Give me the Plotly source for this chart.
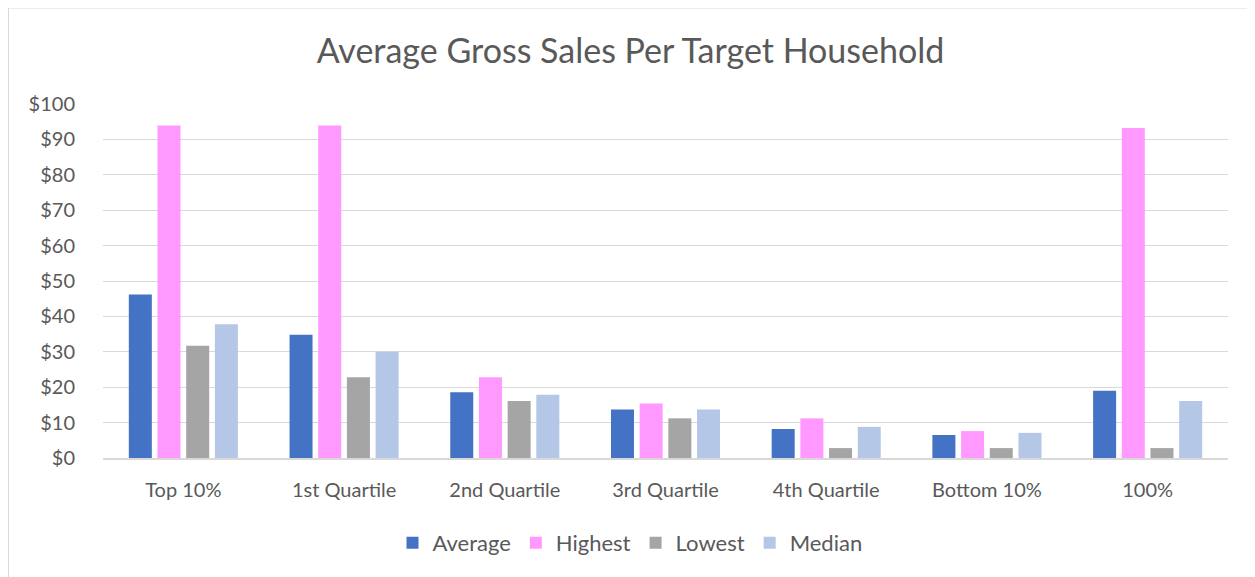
import plotly.graph_objects as go

categories = ["Top 10%", "1st Quartile", "2nd Quartile", "3rd Quartile", "4th Quartile", "Bottom 10%", "100%"]
average = [46.2, 34.8, 18.6, 13.7, 8.2, 6.5, 19.0]
highest = [93.9, 93.9, 22.8, 15.4, 11.2, 7.6, 93.2]
lowest = [31.7, 22.8, 16.1, 11.2, 2.8, 2.8, 2.8]
median = [37.8, 30.0, 17.9, 13.7, 8.8, 7.1, 16.1]
tick_vals = [0, 10, 20, 30, 40, 50, 60, 70, 80, 90, 100]
tick_text = ["$" + str(v) for v in tick_vals]

series = [
    ("Average", average, "#4472C4"),
    ("Highest", highest, "#FF99FF"),
    ("Lowest", lowest, "#A5A5A5"),
    ("Median", median, "#B4C7E7"),
]

fig = go.Figure()
for name, vals, color in series:
    fig.add_trace(go.Bar(x=categories, y=vals, name=name, marker=dict(color=color, line=dict(width=0))))

W, H = 1255, 577
L, T, R, B = 95, 96, 35, 127
pw, ph = W - L - R, H - T - B

font_family = "Lato, 'Open Sans', sans-serif"
fig.update_layout(
    width=W, height=H,
    paper_bgcolor="white", plot_bgcolor="white",
    margin=dict(l=L, r=R, t=T, b=B),
    barmode="group", bargap=0.286, bargroupgap=0.198,
    font=dict(family=font_family, color="#595959", size=20),
    title=dict(text="Average Gross Sales Per Target Household", x=(1255 / 2 - 8 + 3) / W, xanchor="center",
               y=1 - 43 / H, yanchor="middle", font=dict(size=34, color="#595959", family=font_family)),
    legend=dict(orientation="h", x=(622 - L) / pw, xanchor="center", y=(450 - 535) / ph, yanchor="middle",
                font=dict(size=22, color="#595959"), traceorder="normal", itemwidth=30),
    showlegend=True,
)
fig.update_yaxes(range=[0, 100], tickvals=tick_vals, ticktext=tick_text, showgrid=True,
                 gridcolor="#D9D9D9", gridwidth=1.3, zeroline=False, showline=False,
                 ticks="", ticklabelstandoff=27, tickfont=dict(size=20, color="#595959"))
fig.update_xaxes(showgrid=False, showline=True, linecolor="#D9D9D9", linewidth=1.5,
                 ticks="", ticklabelstandoff=13, tickfont=dict(size=20, color="#595959"))
fig.add_shape(type="rect", xref="paper", yref="paper",
              x0=(0.5 - L) / pw, x1=(W + 20 - L) / pw,
              y0=(450 - (H + 20)) / ph, y1=(450 - 0) / ph,
              line=dict(color="#D9D9D9", width=1), fillcolor="rgba(0,0,0,0)", layer="below")
fig.write_html("out.html")
